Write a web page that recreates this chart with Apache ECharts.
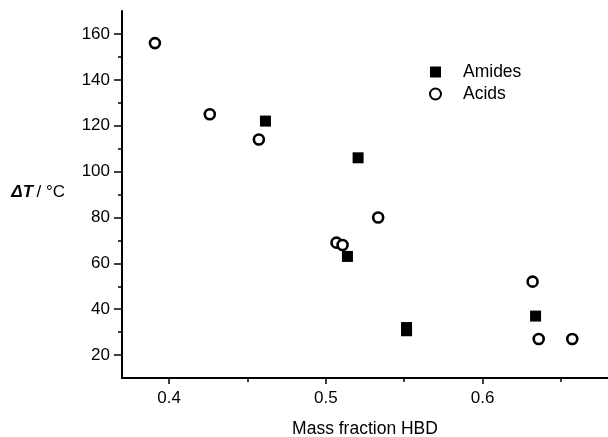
<!DOCTYPE html>
<html lang="en">
<head>
    <meta charset="utf-8">
    <title>Mass fraction HBD</title>
    <script src="https://cdn.jsdelivr.net/npm/echarts@6/dist/echarts.min.js"></script>
    <style>
        html, body { margin: 0; padding: 0; background: #fff; }
        #chart { width: 608px; height: 437px; }
    </style>
</head>
<body>
<div id="chart"></div>
<script type="text/javascript">
// data
var amidesX = [0.4615, 0.5206, 0.5138, 0.5515, 0.5515, 0.6338];
var amidesY = [122, 106, 63, 32, 30.6, 37];
var acidsX = [0.391, 0.426, 0.4573, 0.5068, 0.5107, 0.5334, 0.6319, 0.6358, 0.6572];
var acidsY = [156, 125, 114, 69, 68, 80, 52, 27, 27];

var xTicks = [0.4, 0.5, 0.6];
var xMinorTicks = [0.45, 0.55, 0.65];
var yTicks = [20, 40, 60, 80, 100, 120, 140, 160];
var yMinorTicks = [30, 50, 70, 90, 110, 130, 150];

function pairs(xs, ys) {
    var out = [];
    for (var i = 0; i < xs.length; i++) {
        out.push([xs[i], ys[i]]);
    }
    return out;
}

var font = 'Liberation Sans, Arial, sans-serif';
var lineStyle = { color: '#000', width: 2 };

var myChart = echarts.init(document.getElementById('chart'));
var option = {
    animation: false,
    textStyle: { fontFamily: font, color: '#000' },
    grid: { left: 122, right: 0, top: 11, bottom: 59, containLabel: false, outerBoundsMode: 'none' },
    legend: {
        orient: 'vertical',
        left: 424,
        top: 58,
        itemWidth: 11,
        itemHeight: 11,
        itemGap: 4,
        textStyle: { fontFamily: font, fontSize: 17.5, lineHeight: 18, color: '#000', padding: [0, 0, 0, 17] },
        data: ['Amides', 'Acids']
    },
    xAxis: [{
        type: 'value',
        min: 0.37,
        max: 0.68,
        name: 'Mass fraction HBD',
        nameLocation: 'middle',
        nameGap: 42,
        nameTextStyle: { fontFamily: font, fontSize: 17.5, color: '#000' },
        axisLine: { show: true, onZero: false, lineStyle: lineStyle },
        axisTick: { show: true, inside: false, length: 6, customValues: xTicks, lineStyle: { color: '#000', width: 1.5 } },
        axisLabel: {
            customValues: xTicks, margin: 12, fontSize: 17, color: '#000', fontFamily: font,
            formatter: function (v) { return v.toFixed(1); }
        },
        splitLine: { show: false }
    }, {
        type: 'value',
        position: 'bottom',
        min: 0.37,
        max: 0.68,
        axisLine: { show: false },
        axisTick: { show: true, length: 4, customValues: xMinorTicks, lineStyle: { color: '#000', width: 1.5 } },
        axisLabel: { show: false },
        splitLine: { show: false }
    }],
    yAxis: [{
        type: 'value',
        min: 10,
        max: 170,
        name: '{b|\u0394T} {r|/ \u00B0C}',
        nameLocation: 'middle',
        nameRotate: 0,
        nameGap: 57,
        nameTextStyle: {
            align: 'right',
            padding: [0, 0, 4, 0],
            rich: {
                b: { fontFamily: font, fontSize: 17, fontWeight: 'bold', fontStyle: 'italic', color: '#000' },
                r: { fontFamily: font, fontSize: 17, color: '#000' }
            }
        },
        axisLine: { show: true, onZero: false, lineStyle: lineStyle },
        axisTick: { show: true, length: 8, customValues: yTicks, lineStyle: { color: '#000', width: 1.5 } },
        axisLabel: { customValues: yTicks, margin: 12, fontSize: 17, color: '#000', fontFamily: font },
        splitLine: { show: false }
    }, {
        type: 'value',
        position: 'left',
        min: 10,
        max: 170,
        axisLine: { show: false },
        axisTick: { show: true, length: 4, customValues: yMinorTicks, lineStyle: { color: '#000', width: 1.5 } },
        axisLabel: { show: false },
        splitLine: { show: false }
    }],
    series: [{
        name: 'Amides',
        type: 'scatter',
        symbol: 'rect',
        symbolSize: 11,
        itemStyle: { color: '#000', opacity: 1 },
        data: pairs(amidesX, amidesY)
    }, {
        name: 'Acids',
        type: 'scatter',
        symbol: 'circle',
        symbolSize: 10,
        itemStyle: { color: '#fff', borderColor: '#000', borderWidth: 2.6, opacity: 1 },
        data: pairs(acidsX, acidsY)
    }]
};
myChart.setOption(option);

window.addEventListener('resize', function () {
    myChart.resize();
});
</script>
</body>
</html>
